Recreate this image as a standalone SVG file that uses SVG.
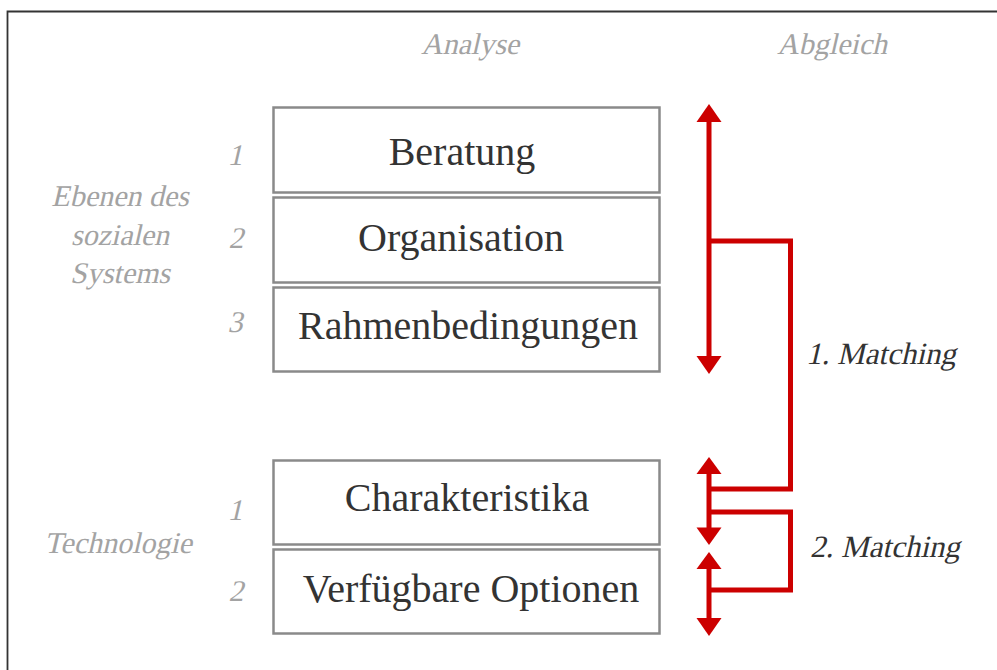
<svg xmlns="http://www.w3.org/2000/svg" width="997" height="670" viewBox="0 0 997 670">
<defs>
<style>
.box{fill:#fff;stroke:#8a8a8a;stroke-width:2.5}
.bt{font-family:"Liberation Serif","Times New Roman",serif;font-size:40px;fill:#333;text-anchor:middle}
.lab{font-family:"Liberation Serif","Times New Roman",serif;font-size:30px;fill:#a3a3a3;text-anchor:middle}
.mt{font-family:"Liberation Serif","Times New Roman",serif;font-size:31px;fill:#333}
.red{fill:none;stroke:#cc0000;stroke-width:5}
.ah{fill:#cc0000}
</style>
</defs>
<rect width="997" height="670" fill="#fff"/>
<path d="M7.5 670 V11.5 H997" fill="none" stroke="#333" stroke-width="1.8"/>
<text class="lab" transform="translate(470,54) skewX(-13)">Analyse</text>
<text class="lab" transform="translate(832,54) skewX(-13)">Abgleich</text>
<g id="label-ebenen">
<text class="lab" transform="translate(120,206) skewX(-13)">Ebenen des</text>
<text class="lab" transform="translate(120,245) skewX(-13)">sozialen</text>
<text class="lab" transform="translate(120,283) skewX(-13)">Systems</text>
</g>
<text class="lab" transform="translate(118,553) skewX(-13)">Technologie</text>
<text class="lab" transform="translate(235,165) skewX(-13)">1</text>
<text class="lab" transform="translate(236,248) skewX(-13)">2</text>
<text class="lab" transform="translate(235,332) skewX(-13)">3</text>
<text class="lab" transform="translate(235,520) skewX(-13)">1</text>
<text class="lab" transform="translate(236,601) skewX(-13)">2</text>
<g id="node-beratung"><rect class="box" x="273.5" y="107.5" width="386" height="85"/><text class="bt" x="462" y="165">Beratung</text></g>
<g id="node-organisation"><rect class="box" x="273.5" y="197.5" width="386" height="85"/><text class="bt" x="461" y="251">Organisation</text></g>
<g id="node-rahmen"><rect class="box" x="273.5" y="287.5" width="386" height="84"/><text class="bt" x="468" y="339">Rahmenbedingungen</text></g>
<g id="node-charakteristika"><rect class="box" x="273.5" y="460.5" width="386" height="84"/><text class="bt" x="467" y="511">Charakteristika</text></g>
<g id="node-optionen"><rect class="box" x="273.5" y="549.5" width="386" height="84"/><text class="bt" x="471" y="602">Verfügbare Optionen</text></g>
<g id="connectors">
<line class="red" x1="709" y1="120" x2="709" y2="358"/>
<polygon class="ah" points="709,104 721.5,122 696.5,122"/>
<polygon class="ah" points="709,374 721.5,356 696.5,356"/>
<line class="red" x1="709" y1="472" x2="709" y2="529"/>
<polygon class="ah" points="709,457 721.5,474 696.5,474"/>
<polygon class="ah" points="709,545 721.5,527.5 696.5,527.5"/>
<line class="red" x1="709" y1="567" x2="709" y2="620"/>
<polygon class="ah" points="709,552 721.5,569 696.5,569"/>
<polygon class="ah" points="709,636 721.5,618 696.5,618"/>
<polyline class="red" points="709,241 790.5,241 790.5,489 709,489"/>
<polyline class="red" points="709,512 790.5,512 790.5,590 709,590"/>
</g>
<text class="mt" transform="translate(806,364) skewX(-13)">1. Matching</text>
<text class="mt" transform="translate(810,557) skewX(-13)">2. Matching</text>
</svg>
